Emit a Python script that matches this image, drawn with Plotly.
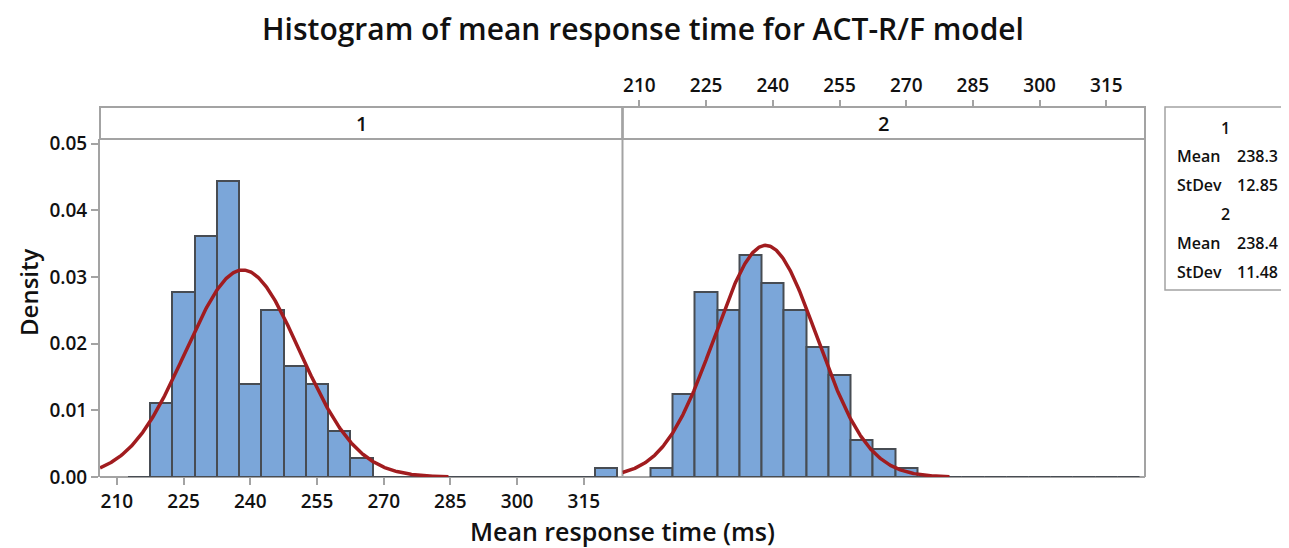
import numpy as np
import plotly.graph_objects as go

# ---------------- data ----------------
bin_centers = [215, 220, 225, 230, 235, 240, 245, 250, 255, 260, 265, 270,
               275, 280, 285, 290, 295, 300, 305, 310, 315, 320]
bin_width = 5
counts_1 = [0, 8, 20, 26, 32, 10, 18, 12, 10, 5, 2, 0,
            0, 0, 0, 0, 0, 0, 0, 0, 0, 1]
counts_2 = [1, 9, 20, 18, 24, 21, 18, 14, 11, 4, 3, 1,
            0, 0, 0, 0, 0, 0, 0, 0, 0, 0]
mean_1, sd_1 = 238.3, 12.85
mean_2, sd_2 = 238.4, 11.48
x_ticks = [210, 225, 240, 255, 270, 285, 300, 315]
y_ticks = [0.00, 0.01, 0.02, 0.03, 0.04, 0.05]
panel_labels = ["1", "2"]
title = "Histogram of mean response time for ACT-R/F model"
x_title = "Mean response time (ms)"
y_title = "Density"

# ---------------- layout constants (screen pixels) ----------------
SW, SH = 1289, 548          # window
OFF = 8                     # page body margin
W, H = SW - OFF, SH - OFF   # figure size
PL, PR, PT, PB = 100, 1145, 107, 477   # plot frame incl. strip, screen px
STRIP = 32
ML, MR, MT, MB = PL - OFF, SW - PR, PT - OFF, SH - PB
PW, PH = PR - PL, PB - PT
YDOM_TOP = (PH - STRIP) / PH
XR = [206.2, 323.7]
YR = [0, 0.0507]

FONT = "Open Sans"
TXT = "#111111"
GRAY = "#a3a3a3"
BAR_FILL = "#7ba6d9"
BAR_LINE = "#474c53"
CURVE = "#a11c1f"


def px2x(px):
    return (px - PL) / PW


def px2y(py):
    return (PB - py) / PH


def density(counts):
    n = sum(counts)
    return [c / (n * bin_width) for c in counts]


def normal_curve(mean, sd):
    xs = np.linspace(XR[0], mean + 3.6 * sd, 400)
    ys = np.exp(-0.5 * ((xs - mean) / sd) ** 2) / (sd * np.sqrt(2 * np.pi))
    return xs, ys


fig = go.Figure()
for i, (counts, m, s) in enumerate([(counts_1, mean_1, sd_1), (counts_2, mean_2, sd_2)]):
    xa = "x" if i == 0 else "x2"
    fig.add_trace(go.Bar(
        x=bin_centers, y=density(counts), width=bin_width,
        marker=dict(color=BAR_FILL, line=dict(color=BAR_LINE, width=2)),
        xaxis=xa, yaxis="y", showlegend=False, hoverinfo="skip"))
    cx, cy = normal_curve(m, s)
    fig.add_trace(go.Scatter(
        x=cx, y=cy, mode="lines", line=dict(color=CURVE, width=3.5),
        xaxis=xa, yaxis="y", showlegend=False, hoverinfo="skip"))

tickfont = dict(family=FONT, size=19, color=TXT, weight=600)

fig.update_layout(
    width=W, height=H,
    margin=dict(l=ML, r=MR, t=MT, b=MB, pad=0),
    paper_bgcolor="white", plot_bgcolor="white",
    bargap=0, barmode="overlay",
    title=dict(text=title, x=(643 - OFF) / W, xanchor="center",
               y=1 - (29 - OFF) / H, yanchor="middle",
               font=dict(family=FONT, size=30, color=TXT, weight=600)),
    xaxis=dict(domain=[0, 0.5], range=XR, tickvals=x_ticks, ticks="outside",
               ticklen=7, tickwidth=2, tickcolor=GRAY, showgrid=False, zeroline=False,
               showline=False, tickfont=tickfont, anchor="y"),
    xaxis2=dict(domain=[0.5, 1], range=XR, tickvals=x_ticks, ticks="outside",
                ticklen=7, tickwidth=2, tickcolor=GRAY, showgrid=False, zeroline=False,
                showline=False, tickfont=tickfont, side="top", anchor="free", position=1),
    yaxis=dict(domain=[0, YDOM_TOP], range=YR, tickvals=y_ticks, tickformat=".2f",
               ticks="outside", ticklen=7, tickwidth=2, tickcolor=GRAY,
               showgrid=False, zeroline=False, showline=True, linecolor=GRAY,
               linewidth=2, tickfont=tickfont),
)

shapes = []
line = dict(color=GRAY, width=2)
for x0, x1 in [(0, 0.5), (0.5, 1)]:
    shapes.append(dict(type="rect", xref="paper", yref="paper", x0=x0, x1=x1,
                       y0=YDOM_TOP, y1=1, line=line, fillcolor="rgba(0,0,0,0)", layer="below"))
shapes.append(dict(type="line", xref="paper", yref="paper", x0=0.5, x1=0.5, y0=0, y1=1,
                   line=line, layer="below"))
shapes.append(dict(type="line", xref="paper", yref="paper", x0=1, x1=1, y0=0, y1=1,
                   line=line, layer="below"))
shapes.append(dict(type="line", xref="paper", yref="paper", x0=0, x1=1, y0=0, y1=0,
                   line=line, layer="below"))
shapes.append(dict(type="rect", xref="paper", yref="paper", x0=px2x(1165), x1=px2x(1285),
                   y0=px2y(290), y1=px2y(107), line=dict(color=GRAY, width=1.5)))
fig.update_layout(shapes=shapes)

ann = []
for lab, cx in zip(panel_labels, [0.25, 0.75]):
    ann.append(dict(text=lab, x=cx, y=px2y(123), xref="paper", yref="paper",
                    showarrow=False, xanchor="center", yanchor="middle",
                    font=dict(family=FONT, size=20, color=TXT, weight=600)))
ann.append(dict(text=x_title, x=0.5, y=px2y(531), xref="paper", yref="paper",
                showarrow=False, xanchor="center", yanchor="middle",
                font=dict(family=FONT, size=25, color=TXT, weight=600)))
ann.append(dict(text=y_title, x=px2x(28), y=px2y(292), xref="paper", yref="paper",
                showarrow=False, xanchor="center", yanchor="middle", textangle=-90,
                font=dict(family=FONT, size=24, color=TXT, weight=600)))

sfont = dict(family=FONT, size=16, color=TXT, weight=600)
rows = [(panel_labels[0], None, 128), ("Mean", f"{mean_1:.1f}", 156), ("StDev", f"{sd_1:.2f}", 185),
        (panel_labels[1], None, 214), ("Mean", f"{mean_2:.1f}", 243), ("StDev", f"{sd_2:.2f}", 272)]
for lab, val, py in rows:
    if val is None:
        ann.append(dict(text=lab, x=px2x(1225), y=px2y(py), xref="paper", yref="paper",
                        showarrow=False, xanchor="center", yanchor="middle", font=sfont))
    else:
        ann.append(dict(text=lab, x=px2x(1175), y=px2y(py), xref="paper", yref="paper",
                        showarrow=False, xanchor="left", yanchor="middle", font=sfont))
        ann.append(dict(text=val, x=px2x(1280), y=px2y(py), xref="paper", yref="paper",
                        showarrow=False, xanchor="right", yanchor="middle", font=sfont))
fig.update_layout(annotations=ann)

fig.write_html("out.html")
